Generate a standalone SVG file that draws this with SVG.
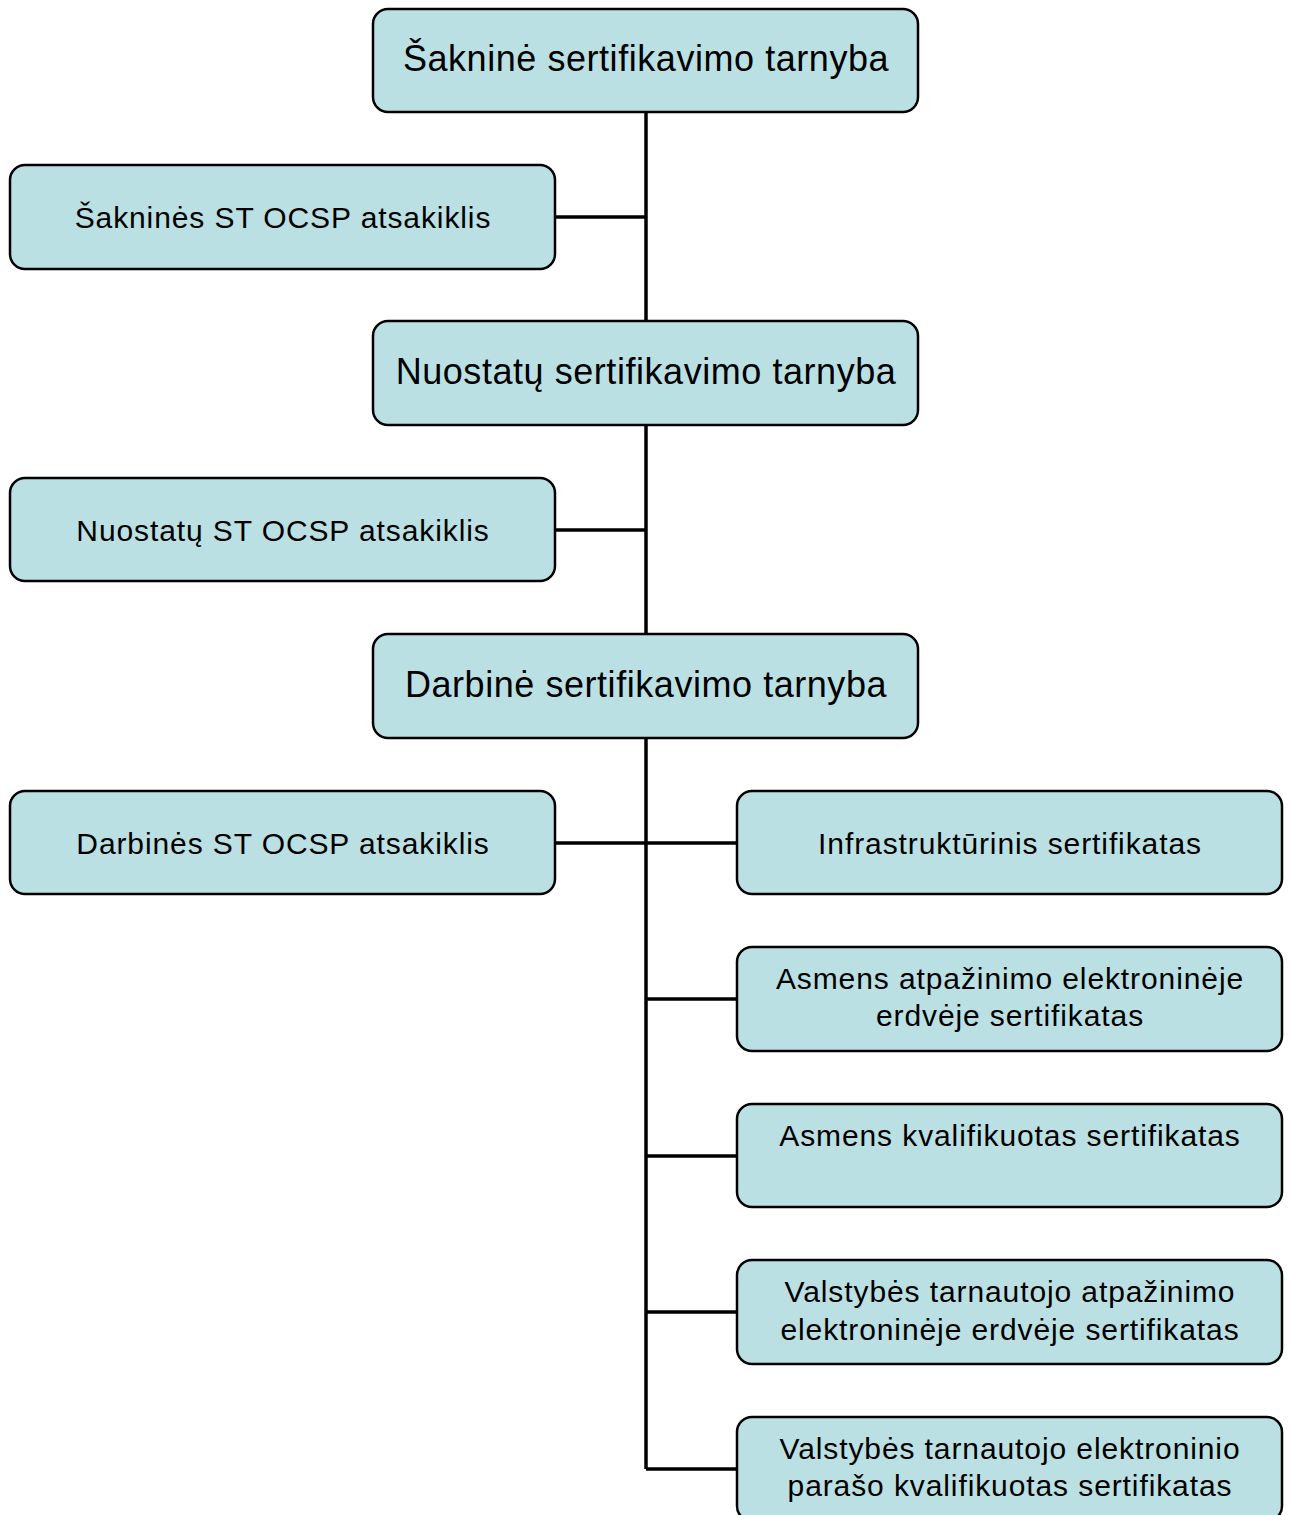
<svg xmlns="http://www.w3.org/2000/svg" width="1290" height="1515" viewBox="0 0 1290 1515">
<style>
.box{fill:#bbe0e3;stroke:#000;stroke-width:2.5}
.t{font-family:"Liberation Sans",Arial,sans-serif;fill:#000;text-anchor:middle}
.big{font-size:36px;letter-spacing:0.55px}
.sm{font-size:30px;letter-spacing:0.9px}
.c{stroke:#000;stroke-width:3.5;fill:none}
</style>
<rect width="1290" height="1515" fill="#fff"/>
<g id="connectors">
<line class="c" x1="646" y1="112" x2="646" y2="1469"/>
<line class="c" x1="555" y1="217" x2="646" y2="217"/>
<line class="c" x1="555" y1="530" x2="646" y2="530"/>
<line class="c" x1="555" y1="843" x2="737" y2="843"/>
<line class="c" x1="646" y1="999" x2="737" y2="999"/>
<line class="c" x1="646" y1="1156" x2="737" y2="1156"/>
<line class="c" x1="646" y1="1312" x2="737" y2="1312"/>
<line class="c" x1="646" y1="1469" x2="737" y2="1469"/>
</g>
<g id="n1"><rect class="box" x="373" y="9" width="545" height="103" rx="15"/><text class="t big" x="646" y="71">Šakninė sertifikavimo tarnyba</text></g>
<g id="n2"><rect class="box" x="10" y="165" width="545" height="104" rx="15"/><text class="t sm" x="283" y="228">Šakninės ST OCSP atsakiklis</text></g>
<g id="n3"><rect class="box" x="373" y="321" width="545" height="104" rx="15"/><text class="t big" x="646" y="384">Nuostatų sertifikavimo tarnyba</text></g>
<g id="n4"><rect class="box" x="10" y="478" width="545" height="103" rx="15"/><text class="t sm" x="283" y="541">Nuostatų ST OCSP atsakiklis</text></g>
<g id="n5"><rect class="box" x="373" y="634" width="545" height="104" rx="15"/><text class="t big" x="646" y="697">Darbinė sertifikavimo tarnyba</text></g>
<g id="n6"><rect class="box" x="10" y="791" width="545" height="103" rx="15"/><text class="t sm" x="283" y="854">Darbinės ST OCSP atsakiklis</text></g>
<g id="n7"><rect class="box" x="737" y="791" width="545" height="103" rx="15"/><text class="t sm" x="1010" y="854">Infrastruktūrinis sertifikatas</text></g>
<g id="n8"><rect class="box" x="737" y="947" width="545" height="104" rx="15"/><text class="t sm" x="1010" y="989">Asmens atpažinimo elektroninėje</text><text class="t sm" x="1010" y="1026">erdvėje sertifikatas</text></g>
<g id="n9"><rect class="box" x="737" y="1104" width="545" height="103" rx="15"/><text class="t sm" x="1010" y="1146">Asmens kvalifikuotas sertifikatas</text></g>
<g id="n10"><rect class="box" x="737" y="1260" width="545" height="104" rx="15"/><text class="t sm" x="1010" y="1302">Valstybės tarnautojo atpažinimo</text><text class="t sm" x="1010" y="1340">elektroninėje erdvėje sertifikatas</text></g>
<g id="n11"><rect class="box" x="737" y="1417" width="545" height="104" rx="15"/><text class="t sm" x="1010" y="1459">Valstybės tarnautojo elektroninio</text><text class="t sm" x="1010" y="1496">parašo kvalifikuotas sertifikatas</text></g>
</svg>
